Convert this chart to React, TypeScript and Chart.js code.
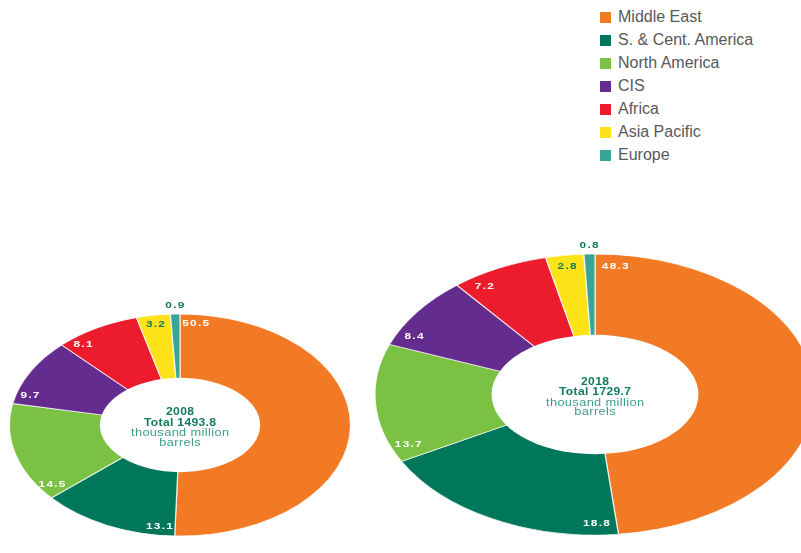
import React, { useEffect, useRef } from 'react';
import { Chart, registerables } from 'chart.js';

Chart.register(...registerables);

const regions = ['Middle East', 'S. & Cent. America', 'North America', 'CIS', 'Africa', 'Asia Pacific', 'Europe'];
const colors = ['#F37A24', '#00775B', '#7BC143', '#652C8F', '#EC1C2D', '#FDE317', '#3AA597'];
const shares2008 = [50.5, 13.1, 14.5, 9.7, 8.1, 3.2, 0.9];
const shares2018 = [48.3, 18.8, 13.7, 8.4, 7.2, 2.8, 0.8];
const year2008 = '2008';
const year2018 = '2018';
const total2008 = 'Total 1493.8';
const total2018 = 'Total 1729.7';
const unitLines = ['thousand million', 'barrels'];

const DARK = '#137A5E';
const LIGHT = '#3E9E86';

function drawText(ctx: CanvasRenderingContext2D, text: string, x: number, y: number, font: string, color: string, sx: number, spacing = 0) {
  ctx.save();
  ctx.translate(x, y);
  ctx.scale(sx, 1);
  ctx.font = font;
  (ctx as any).letterSpacing = spacing + 'px';
  ctx.fillStyle = color;
  ctx.textAlign = 'center';
  ctx.textBaseline = 'middle';
  ctx.fillText(text, spacing / 2, 0);
  ctx.restore();
}

const ellipsePlugin = {
  id: 'ellipse',
  beforeDatasetsDraw(chart: any, _args: any, opts: any) {
    const arc = chart.getDatasetMeta(0).data[0];
    if (!arc) return;
    const ctx = chart.ctx;
    ctx.save();
    ctx.translate(arc.x, arc.y);
    ctx.scale(opts.sx, 1);
    ctx.translate(-arc.x, -arc.y);
  },
  afterDatasetsDraw(chart: any, _args: any, opts: any) {
    const ctx = chart.ctx as CanvasRenderingContext2D;
    ctx.restore();
    const meta = chart.getDatasetMeta(0);
    const values: number[] = chart.data.datasets[0].data;
    const sx = opts.sx;
    const c = meta.data[0];
    const R0 = c.outerRadius;
    // white centre hole, slightly flatter than the ring
    ctx.save();
    ctx.fillStyle = '#ffffff';
    ctx.beginPath();
    ctx.ellipse(c.x, c.y, R0 * sx * opts.holeX, R0 * opts.holeY, 0, 0, Math.PI * 2);
    ctx.fill();
    ctx.restore();
    meta.data.forEach((arc: any, i: number) => {
      const v = values[i];
      const R = arc.outerRadius;
      let a: number;
      let r: number;
      let color = '#ffffff';
      if (v < 1.5) {
        a = (arc.startAngle + arc.endAngle) / 2;
        r = R + 9;
        color = DARK;
      } else if (v < 4) {
        a = (arc.startAngle + arc.endAngle) / 2;
        r = R * 0.92;
        color = DARK;
      } else {
        a = arc.startAngle + 0.1;
        r = R * 0.92;
      }
      const x = arc.x + sx * r * Math.cos(a);
      const y = arc.y + r * Math.sin(a);
      drawText(ctx, v.toFixed(1), x, y, 'bold 9.5px "Liberation Sans", Arial, sans-serif', color, 1.25, 1);
    });
    const cx = c.x;
    const cy = c.y + 3;
    drawText(ctx, opts.year, cx, cy - 15.5, 'bold 10.5px "Liberation Sans", Arial, sans-serif', DARK, 1.15, 0.3);
    drawText(ctx, opts.total, cx, cy - 5, 'bold 10.5px "Liberation Sans", Arial, sans-serif', DARK, 1.15, 0.3);
    drawText(ctx, opts.units[0], cx, cy + 5.5, '10.5px "Liberation Sans", Arial, sans-serif', LIGHT, 1.22, 0.3);
    drawText(ctx, opts.units[1], cx, cy + 15, '10.5px "Liberation Sans", Arial, sans-serif', LIGHT, 1.22, 0.3);
  },
};

type DonutProps = {
  values: number[];
  year: string;
  total: string;
  left: number;
  top: number;
  width: number;
  height: number;
  radius: number;
  sx: number;
};

function Donut({ values, year, total, left, top, width, height, radius, sx }: DonutProps) {
  const ref = useRef<HTMLCanvasElement | null>(null);
  useEffect(() => {
    if (!ref.current) return;
    const chart = new Chart(ref.current, {
      type: 'doughnut',
      data: {
        labels: regions,
        datasets: [
          {
            data: values,
            backgroundColor: colors,
            borderColor: 'rgba(255,255,255,0.8)',
            borderWidth: 0.8,
            clip: false as any,
          },
        ],
      },
      options: {
        responsive: false,
        maintainAspectRatio: false,
        animation: false,
        radius: radius,
        cutout: '40%',
        layout: { padding: 0 },
        plugins: {
          legend: { display: false },
          tooltip: { enabled: false },
          ellipse: { sx, year, total, units: unitLines, holeX: 0.47, holeY: 0.425 },
        } as any,
      } as any,
      plugins: [ellipsePlugin as any],
    });
    return () => chart.destroy();
  }, []);
  return (
    <canvas
      ref={ref}
      width={width}
      height={height}
      style={{ position: 'absolute', left, top, width, height }}
    />
  );
}

export default function App() {
  return (
    <div
      style={{
        position: 'fixed',
        left: 0,
        top: 0,
        width: 801,
        height: 553,
        overflow: 'hidden',
        background: '#ffffff',
      }}
    >
      <Donut values={shares2008} year={year2008} total={total2008} left={0} top={290} width={360} height={270} radius={111} sx={1.536} />
      <Donut values={shares2018} year={year2018} total={total2018} left={365} top={230} width={460} height={329} radius={140.5} sx={1.566} />
      <div style={{ position: 'absolute', left: 600, top: 5.5 }}>
        {regions.map((r, i) => (
          <div
            key={r}
            style={{
              height: 23.05,
              display: 'flex',
              alignItems: 'center',
              fontFamily: '"Liberation Sans", Arial, sans-serif',
              fontSize: 16,
              color: '#58595B',
              whiteSpace: 'nowrap',
            }}
          >
            <span style={{ display: 'inline-block', width: 11, height: 11, background: colors[i], marginRight: 7 }} />
            <span>{r}</span>
          </div>
        ))}
      </div>
    </div>
  );
}
